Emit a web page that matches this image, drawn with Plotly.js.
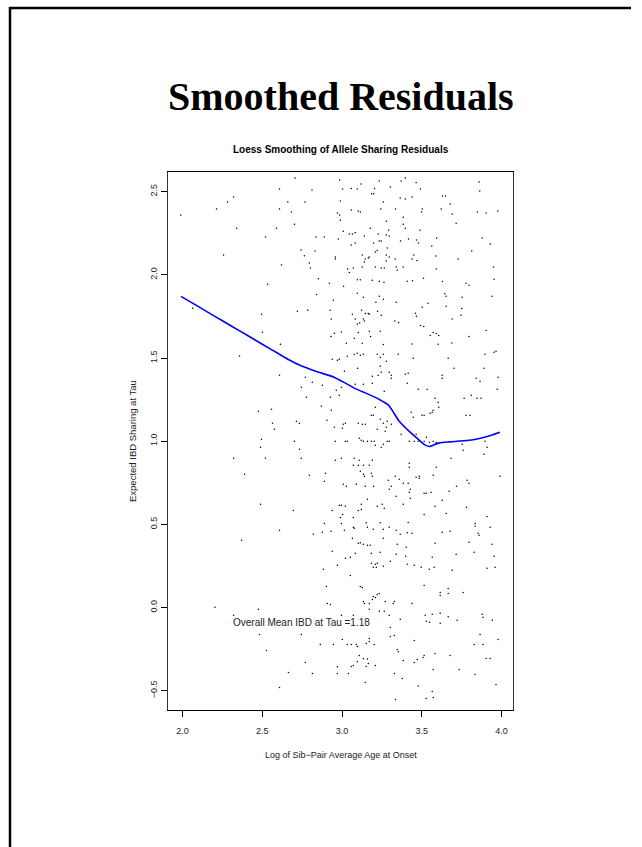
<!DOCTYPE html>
<html>
<head>
<meta charset="utf-8">
<script src="https://cdn.plot.ly/plotly-3.0.1.min.js"></script>
<style>
  html, body { margin: 0; padding: 0; background: #fff; }
  #chart { width: 642px; height: 847px; }
</style>
</head>
<body>
<div id="chart"></div>
<script>
// ---- Data ----
const xTickVals = [2.0, 2.5, 3.0, 3.5, 4.0];
const xTickText = ['2.0', '2.5', '3.0', '3.5', '4.0'];
const yTickVals = [-0.5, 0.0, 0.5, 1.0, 1.5, 2.0, 2.5];
const yTickText = ['\u22120.5', '0.0', '0.5', '1.0', '1.5', '2.0', '2.5'];

// residual points, [log age, IBD sharing], grouped by region of the plot
const residualsUpperLeft = [[2.706,2.582],[2.608,2.516],[2.320,2.468],[2.282,2.438],[2.660,2.438],[2.213,2.396],[2.608,2.396],[2.683,2.378],[1.988,2.360],[2.702,2.305],[2.339,2.281],[2.589,2.281],[2.520,2.227],[2.257,2.119],[2.620,2.059],[2.533,1.944],[2.720,1.782],[2.063,1.800],[2.495,1.764],[2.501,1.655],[2.614,1.583]];
const residualsMiddleLeft = [[2.357,1.513],[2.608,1.397],[2.476,1.180],[2.558,1.192],[2.714,1.120],[2.733,1.108],[2.564,1.108],[2.576,1.072],[2.495,1.012],[2.702,1.000],[2.489,0.964],[2.733,0.952],[2.320,0.897],[2.520,0.897],[2.389,0.801],[2.489,0.621],[2.695,0.584],[2.608,0.464],[2.370,0.404]];
const residualsLowerLeft = [[2.203,0.001],[2.476,-0.011],[2.320,-0.047],[2.483,-0.162],[2.526,-0.258],[2.664,-0.390],[2.608,-0.481]];
const residualsUpperRight = [[2.985,2.570],[3.397,2.582],[3.371,2.564],[3.234,2.564],[3.465,2.556],[3.119,2.546],[3.058,2.520],[3.004,2.516],[3.096,2.516],[2.812,2.510],[3.204,2.520],[3.303,2.528],[3.492,2.516],[3.860,2.558],[3.864,2.504],[3.198,2.488],[3.186,2.488],[3.365,2.462],[3.397,2.456],[3.440,2.468],[2.768,2.438],[2.990,2.444],[3.259,2.438],[3.630,2.474],[3.649,2.474],[3.678,2.426],[3.058,2.390],[3.102,2.384],[3.115,2.378],[2.971,2.372],[2.985,2.360],[3.244,2.396],[3.336,2.396],[3.503,2.396],[3.499,2.378],[3.622,2.396],[3.691,2.366],[3.849,2.378],[3.904,2.372],[3.977,2.384],[3.384,2.347],[2.990,2.329],[3.278,2.323],[3.716,2.311],[3.384,2.305],[3.397,2.281],[3.177,2.281],[3.490,2.269],[3.008,2.263],[3.046,2.245],[3.065,2.245],[3.083,2.253],[3.227,2.245],[3.278,2.239],[3.292,2.269],[3.296,2.233],[3.140,2.233],[2.837,2.227],[2.889,2.227],[2.977,2.215],[3.234,2.203],[3.246,2.203],[3.367,2.203],[3.417,2.215],[3.467,2.209],[3.480,2.191],[3.593,2.221],[3.879,2.221],[3.929,2.185],[3.083,2.191],[3.058,2.179],[3.198,2.191],[3.563,2.173],[3.284,2.161],[3.221,2.147],[3.209,2.137],[2.743,2.149],[2.831,2.143],[2.764,2.115],[3.127,2.119],[3.171,2.107],[3.146,2.095],[3.165,2.101],[2.958,2.107],[2.958,2.095],[3.278,2.119],[3.296,2.107],[3.334,2.095],[3.451,2.119],[3.440,2.095],[3.470,2.087],[3.588,2.113],[3.728,2.095],[3.814,2.143],[2.795,2.071],[3.140,2.077],[3.278,2.083],[2.802,2.041],[3.035,2.035],[3.046,2.014],[3.071,2.041],[3.127,2.047],[3.209,2.047],[3.246,2.041],[3.265,2.041],[3.340,2.047],[3.346,2.029],[3.384,2.047],[3.591,2.035],[3.950,2.047],[2.852,1.976],[2.921,1.950],[3.010,1.932],[3.096,1.970],[3.115,1.970],[3.190,1.968],[3.234,1.962],[3.263,1.956],[3.409,1.962],[3.442,1.964],[3.511,1.980],[3.630,1.960],[3.778,1.950],[3.797,1.938],[3.954,1.974],[2.841,1.882],[2.946,1.848],[3.096,1.890],[3.134,1.866],[3.234,1.872],[3.259,1.854],[3.213,1.836],[3.340,1.836],[3.645,1.886],[3.653,1.872],[3.753,1.866],[3.941,1.872],[2.785,1.788],[2.925,1.788],[2.933,1.734],[3.065,1.764],[3.123,1.788],[3.146,1.768],[3.165,1.768],[3.171,1.764],[3.083,1.734],[3.134,1.734],[3.140,1.722],[3.096,1.704],[3.111,1.710],[3.223,1.782],[3.246,1.758],[3.332,1.722],[3.355,1.714],[3.461,1.770],[3.467,1.752],[3.503,1.806],[3.540,1.830],[3.653,1.812],[3.751,1.798],[3.747,1.758],[3.691,1.734],[3.492,1.696],[3.513,1.689],[2.952,1.649],[2.931,1.629],[2.996,1.657],[3.102,1.653],[3.171,1.661],[3.240,1.661],[3.077,1.619],[3.179,1.629],[3.572,1.653],[3.553,1.635],[3.591,1.647],[3.607,1.635],[3.797,1.629],[3.904,1.665],[3.027,1.589],[3.127,1.589],[3.259,1.581],[3.440,1.585],[3.603,1.583],[3.689,1.591]];
const residualsMiddleRight = [[2.939,1.493],[2.971,1.487],[2.983,1.493],[3.033,1.511],[3.077,1.523],[3.096,1.529],[3.115,1.517],[3.134,1.523],[3.221,1.523],[3.240,1.505],[3.259,1.523],[3.278,1.481],[3.353,1.523],[3.447,1.499],[3.666,1.499],[3.897,1.523],[3.954,1.535],[3.966,1.541],[3.240,1.451],[3.098,1.439],[3.703,1.439],[3.891,1.439],[3.015,1.421],[3.190,1.391],[3.227,1.397],[3.246,1.415],[3.296,1.415],[3.309,1.397],[3.309,1.379],[3.397,1.403],[3.415,1.409],[3.409,1.349],[3.628,1.397],[3.628,1.379],[3.841,1.379],[3.866,1.361],[3.979,1.385],[2.770,1.385],[2.814,1.355],[2.877,1.337],[3.083,1.343],[3.134,1.343],[3.190,1.349],[2.996,1.325],[2.964,1.307],[2.745,1.325],[3.478,1.313],[3.534,1.313],[3.973,1.313],[3.265,1.301],[2.927,1.264],[2.983,1.277],[2.777,1.264],[3.584,1.258],[3.810,1.277],[3.847,1.258],[3.872,1.258],[3.766,1.258],[3.603,1.234],[3.607,1.204],[3.572,1.186],[3.566,1.174],[3.553,1.168],[3.515,1.156],[3.501,1.156],[3.434,1.174],[3.447,1.144],[3.209,1.204],[2.871,1.210],[2.933,1.186],[3.184,1.156],[3.196,1.156],[3.240,1.132],[2.906,1.126],[3.259,1.108],[3.284,1.120],[3.309,1.102],[3.008,1.102],[3.021,1.108],[3.102,1.108],[3.127,1.102],[3.146,1.102],[3.002,1.078],[2.952,1.084],[3.221,1.072],[3.278,1.084],[3.271,1.060],[3.371,1.042],[3.778,1.156],[3.803,1.156],[3.465,1.042],[3.530,1.024],[3.108,1.018],[3.121,1.006],[3.134,1.000],[2.958,1.000],[3.021,1.000],[3.033,1.000],[3.159,1.000],[3.184,1.000],[3.202,1.000],[3.209,0.976],[3.246,0.964],[3.259,0.982],[3.284,1.000],[3.296,1.000],[3.422,1.000],[3.453,1.000],[3.478,1.000],[3.497,0.994],[3.515,1.000],[3.549,0.994],[3.572,1.000],[3.591,0.992],[3.753,0.982],[3.760,0.946],[3.910,0.964],[3.897,1.000],[3.891,0.921],[2.745,0.897],[2.958,0.885],[2.996,0.897],[3.077,0.897],[3.108,0.885],[3.071,0.855],[3.102,0.855],[3.134,0.855],[3.171,0.855],[3.190,0.885],[3.422,0.867],[3.422,0.843],[3.591,0.843],[3.684,0.897],[2.795,0.795],[2.896,0.807],[2.889,0.759],[3.115,0.819],[3.134,0.801],[3.140,0.789],[3.184,0.807],[3.190,0.789],[3.008,0.741],[3.027,0.729],[3.090,0.741],[3.146,0.729],[3.198,0.729],[3.290,0.765],[3.334,0.789],[3.359,0.771],[3.384,0.747],[3.415,0.747],[3.465,0.783],[3.484,0.789],[3.484,0.777],[3.572,0.795],[3.785,0.765],[3.797,0.747],[3.991,0.789],[3.309,0.729],[3.296,0.711],[3.340,0.669],[3.428,0.711],[3.422,0.693],[3.428,0.657],[3.384,0.621],[3.515,0.687],[3.528,0.687],[3.559,0.693],[3.672,0.699],[3.718,0.729],[3.159,0.651],[2.983,0.615],[2.996,0.615],[3.021,0.609],[3.121,0.621],[3.221,0.609],[3.252,0.621],[3.265,0.597],[2.939,0.584],[3.004,0.560],[3.102,0.584],[3.121,0.590],[2.990,0.542],[3.071,0.542],[3.584,0.609],[3.628,0.645],[3.653,0.566],[3.781,0.603],[3.515,0.560],[3.910,0.548],[2.889,0.506],[2.996,0.506],[3.071,0.482],[3.152,0.510],[3.240,0.510],[3.415,0.512],[3.835,0.506],[3.835,0.488],[3.854,0.446],[3.860,0.434],[3.929,0.482],[2.877,0.452],[2.820,0.440],[2.931,0.458],[3.015,0.464],[3.077,0.476],[3.159,0.482],[3.196,0.470],[3.259,0.470],[3.296,0.482],[3.340,0.464],[3.365,0.440],[3.440,0.446],[3.628,0.452],[3.678,0.458],[3.065,0.416],[3.259,0.416],[3.409,0.450]];
const residualsLowerRight = [[3.102,0.386],[3.115,0.390],[3.134,0.380],[3.159,0.374],[3.177,0.374],[3.346,0.380],[3.403,0.362],[3.584,0.386],[3.797,0.392],[3.941,0.380],[2.939,0.338],[3.021,0.296],[3.052,0.302],[3.083,0.326],[3.184,0.326],[3.240,0.332],[3.340,0.320],[3.399,0.308],[3.566,0.302],[3.716,0.320],[3.829,0.332],[3.954,0.308],[2.883,0.230],[2.971,0.254],[3.052,0.193],[3.184,0.266],[3.209,0.260],[3.221,0.266],[3.196,0.242],[3.215,0.242],[3.259,0.248],[3.303,0.278],[3.409,0.260],[3.453,0.254],[3.497,0.242],[3.547,0.230],[3.578,0.242],[3.691,0.224],[3.910,0.236],[3.960,0.242],[2.902,0.127],[3.115,0.127],[3.127,0.121],[3.515,0.133],[3.616,0.091],[3.616,0.073],[3.666,0.115],[3.666,0.085],[3.760,0.091],[2.908,0.025],[2.927,0.019],[3.134,0.037],[3.140,0.025],[3.171,0.025],[3.190,0.049],[3.209,0.061],[3.221,0.079],[3.234,0.085],[3.196,0.067],[3.271,0.037],[3.328,0.037],[3.321,0.025],[3.440,0.025],[2.996,-0.047],[3.071,-0.047],[3.171,-0.011],[3.234,-0.023],[3.265,-0.023],[3.296,-0.047],[3.365,-0.071],[3.522,-0.047],[3.566,-0.041],[3.616,-0.035],[3.666,-0.055],[3.722,-0.077],[3.879,-0.041],[3.885,-0.059],[3.943,-0.077],[3.549,-0.089],[3.528,-0.083],[3.616,-0.095],[2.745,-0.162],[2.864,-0.222],[2.946,-0.222],[3.002,-0.192],[3.033,-0.222],[3.058,-0.222],[3.090,-0.222],[3.096,-0.234],[3.152,-0.216],[3.171,-0.186],[3.171,-0.204],[3.202,-0.222],[3.303,-0.120],[3.303,-0.174],[3.328,-0.168],[3.453,-0.198],[3.829,-0.222],[3.866,-0.162],[3.885,-0.222],[3.979,-0.192],[2.770,-0.330],[2.814,-0.396],[2.971,-0.356],[2.971,-0.396],[3.040,-0.396],[3.058,-0.354],[3.071,-0.348],[3.108,-0.288],[3.096,-0.324],[3.134,-0.306],[3.159,-0.310],[3.165,-0.336],[3.152,-0.354],[3.209,-0.348],[3.346,-0.252],[3.353,-0.266],[3.384,-0.318],[3.453,-0.330],[3.472,-0.312],[3.515,-0.288],[3.509,-0.300],[3.584,-0.276],[3.678,-0.288],[3.572,-0.372],[3.735,-0.372],[3.835,-0.402],[3.904,-0.306],[3.929,-0.306],[3.146,-0.450],[3.328,-0.396],[3.378,-0.426],[3.478,-0.471],[3.566,-0.505],[3.572,-0.541],[3.528,-0.547],[3.336,-0.553],[3.966,-0.463]];

// loess smooth
const smoothX = [1.99, 2.10, 2.20, 2.30, 2.40, 2.50, 2.60, 2.66, 2.74, 2.84, 2.95, 3.01, 3.09, 3.15, 3.24, 3.29, 3.32, 3.36, 3.41, 3.47, 3.52, 3.55, 3.57, 3.61, 3.68, 3.78, 3.84, 3.91, 3.99];
const smoothY = [1.871, 1.809, 1.752, 1.696, 1.640, 1.583, 1.527, 1.493, 1.455, 1.419, 1.385, 1.355, 1.313, 1.289, 1.248, 1.218, 1.178, 1.118, 1.070, 1.018, 0.978, 0.968, 0.976, 0.990, 0.996, 1.004, 1.012, 1.028, 1.054];

const overallMeanLabel = 'Overall Mean IBD at Tau =1.18';
const overallMeanPos = [2.745, -0.09];

// ---- Build ----
const allPts = [].concat(residualsUpperLeft, residualsMiddleLeft, residualsLowerLeft,
                         residualsUpperRight, residualsMiddleRight, residualsLowerRight);
const ptsX = allPts.map(p => p[0]);
const ptsY = allPts.map(p => p[1]);

// plot box in pixels (page is 642 x 847)
const W = 642, H = 847;
const L = 168, R = 513, T = 172, B = 710;
const px = v => (v - L) / (R - L);      // pixel x -> paper
const py = v => (B - v) / (B - T);      // pixel y -> paper

const sans = 'Liberation Sans, Arial, Helvetica, sans-serif';

const traces = [
  {
    type: 'scatter', mode: 'markers', x: ptsX, y: ptsY,
    marker: { size: 1.5, color: '#000', line: { width: 0 } },
    hoverinfo: 'skip', showlegend: false
  },
  {
    type: 'scatter', mode: 'lines', x: smoothX, y: smoothY,
    line: { color: '#0000ff', width: 1.6, shape: 'spline', smoothing: 0.6 },
    hoverinfo: 'skip', showlegend: false
  }
];

const layout = {
  width: W, height: H,
  margin: { l: L, r: W - R, t: T, b: H - B, pad: 0 },
  paper_bgcolor: '#fff', plot_bgcolor: '#fff',
  showlegend: false,
  xaxis: {
    range: [1.9086, 4.0726],
    tickmode: 'array', tickvals: xTickVals, ticktext: xTickText,
    ticks: 'outside', ticklen: 6, tickwidth: 1, tickcolor: '#000',
    ticklabelstandoff: 6,
    showline: true, linecolor: '#000', linewidth: 1, mirror: true,
    showgrid: false, zeroline: false,
    tickfont: { family: sans, size: 9, color: '#222' }
  },
  yaxis: {
    range: [-0.616, 2.6185],
    tickmode: 'array', tickvals: yTickVals, ticktext: yTickText,
    tickangle: -90,
    ticks: 'outside', ticklen: 6, tickwidth: 1, tickcolor: '#000',
    showline: true, linecolor: '#333', linewidth: 1, mirror: true,
    showgrid: false, zeroline: false,
    tickfont: { family: sans, size: 9, color: '#222' }
  },
  annotations: [
    { text: '<b>Smoothed Residuals</b>', xref: 'paper', yref: 'paper',
      x: 0.5, y: py(97), xanchor: 'center', yanchor: 'middle', showarrow: false,
      font: { family: 'Liberation Serif, Times New Roman, serif', size: 40, color: '#000' } },
    { text: '<b>Loess Smoothing of Allele Sharing Residuals</b>', xref: 'paper', yref: 'paper',
      x: 0.5, y: py(149), xanchor: 'center', yanchor: 'middle', showarrow: false,
      font: { family: sans, size: 10, color: '#000' } },
    { text: 'Log of Sib\u2212Pair Average Age at Onset', xref: 'paper', yref: 'paper',
      x: 0.5, y: py(755), xanchor: 'center', yanchor: 'middle', showarrow: false,
      font: { family: sans, size: 9, color: '#222' } },
    { text: 'Expected IBD Sharing at Tau', xref: 'paper', yref: 'paper',
      x: px(132), y: 0.5, xanchor: 'center', yanchor: 'middle', textangle: -90, showarrow: false,
      font: { family: sans, size: 9.5, color: '#222' } },
    { text: overallMeanLabel, xref: 'x', yref: 'y',
      x: overallMeanPos[0], y: overallMeanPos[1], xanchor: 'center', yanchor: 'middle', showarrow: false,
      font: { family: sans, size: 10, color: '#222' } }
  ],
  shapes: [
    // page frame (left and top edges)
    { type: 'line', xref: 'paper', yref: 'paper', x0: px(10), x1: px(10), y0: py(H + 2), y1: py(7),
      line: { color: '#000', width: 2.5 } },
    { type: 'line', xref: 'paper', yref: 'paper', x0: px(9), x1: px(631), y0: py(8), y1: py(8),
      line: { color: '#000', width: 2.5 } }
  ]
};

Plotly.newPlot('chart', traces, layout, { staticPlot: true, displayModeBar: false });
</script>
</body>
</html>
